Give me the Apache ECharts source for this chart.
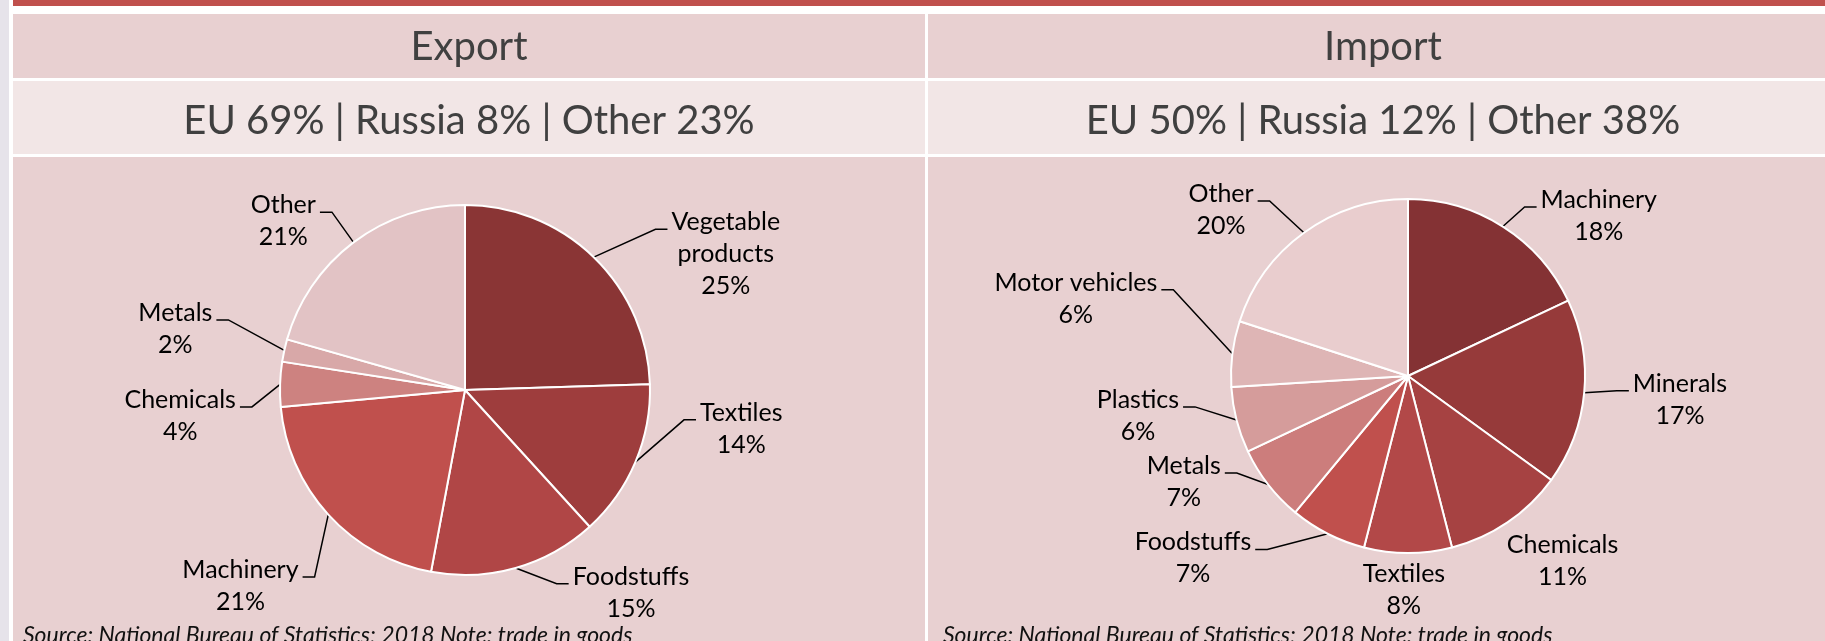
<!DOCTYPE html>
<html>
<head>
<meta charset="utf-8">
<script src="https://cdn.jsdelivr.net/npm/echarts@6/dist/echarts.min.js"></script>
<style>
  html, body { margin: 0; padding: 0; background: #ffffff; }
  #chart { width: 1825px; height: 641px; }
</style>
</head>
<body>
<div id="chart"></div>
<script>
// ---- data ----
const panelTitles = ['Export', 'Import'];

const partnerNames = ['EU', 'Russia', 'Other'];
const exportPartnerShares = [69, 8, 23];
const importPartnerShares = [50, 12, 38];

const exportCategories = ['Vegetable\nproducts', 'Textiles', 'Foodstuffs', 'Machinery', 'Chemicals', 'Metals', 'Other'];
const exportShares = [25, 14, 15, 21, 4, 2, 21];

const importCategories = ['Machinery', 'Minerals', 'Chemicals', 'Textiles', 'Foodstuffs', 'Metals', 'Plastics', 'Motor vehicles', 'Other'];
const importShares = [18, 17, 11, 8, 7, 7, 6, 6, 20];

const sourceNote = 'Source: National Bureau of Statistics; 2018 Note: trade in goods';

// ---- palette ----
const exportColors = ['#8a3535', '#9e3d3d', '#b04646', '#c0504d', '#cd8280', '#d8a8a8', '#e2c3c5'];
const importColors = ['#843234', '#963a3a', '#a64242', '#b24848', '#c0504d', '#cc7d7c', '#d59c9b', '#deb5b5', '#e9cdce'];

// ---- label placement around each pie: [angle clockwise from 12 o'clock (deg), distance from centre (px)] ----
const exportLabelSpots = [[62.5, 294], [98, 279], [140.7, 262], [228.9, 298], [264.8, 286], [281.9, 296], [312.9, 248]];
const importLabelSpots = [[50, 249], [95, 273], [140.1, 241], [181.1, 214], [229.7, 282], [244.7, 248], [261.6, 273], [283.1, 341], [311.6, 250]];

const PANEL_BG = '#e8d0d1';
const SUB_BG = '#f2e6e6';
const TEXT_DARK = '#404040';
const LABEL_FONT = 'Lato, "Open Sans", sans-serif';
const LABEL_LINE_H = 32;

const partnerLine = shares => partnerNames.map((n, i) => n + ' ' + shares[i] + '%').join(' | ');

// Places each label at its spot, centres its lines, and runs a leader line from
// the slice edge to the first text line (no leader when the label sits next to its slice).
function leaderLabel(center, spots) {
  return function (params) {
    const spot = spots[params.dataIndex];
    const a = spot[0] * Math.PI / 180;
    const bx = center[0] + spot[1] * Math.sin(a);
    const by = center[1] - spot[1] * Math.cos(a);
    const w = params.labelRect.width;
    const nLines = String(params.text).split('\n').length;
    const firstY = by - (nLines - 1) * LABEL_LINE_H / 2;
    const p0 = params.labelLinePoints ? params.labelLinePoints[0] : [bx, by];
    const toRight = bx >= p0[0];
    const gap = 4, tail = 12;
    const p2 = [toRight ? bx - w / 2 - gap : bx + w / 2 + gap, firstY + 7];
    const p1 = [toRight ? p2[0] - tail : p2[0] + tail, p2[1]];
    const reach = toRight ? p1[0] - p0[0] : p0[0] - p1[0];
    const pts = reach > 8 ? [p0, p1, p2] : [p0, p0, p0];
    return { x: bx, y: by, align: 'center', verticalAlign: 'middle', labelLinePoints: pts };
  };
}

function pieSeries(names, values, colors, center, radius, spots) {
  return {
    type: 'pie',
    center: center,
    radius: radius,
    startAngle: 90,
    clockwise: true,
    animation: false,
    silent: true,
    avoidLabelOverlap: false,
    data: names.map((n, i) => ({ name: n, value: values[i], itemStyle: { color: colors[i] } })),
    itemStyle: { borderColor: '#ffffff', borderWidth: 2 },
    label: {
      show: true,
      position: 'outside',
      formatter: '{b}\n{c}%',
      fontFamily: LABEL_FONT,
      fontSize: 25,
      lineHeight: LABEL_LINE_H,
      color: '#000000'
    },
    labelLine: {
      show: true,
      length: 20,
      length2: 10,
      lineStyle: { color: '#000000', width: 1.5 }
    },
    labelLayout: leaderLabel(center, spots)
  };
}

const chart = echarts.init(document.getElementById('chart'), null, { renderer: 'canvas' });

const leftX = 13, leftW = 912, rightX = 928, rightW = 897;
const headerText = (txt, cx, cy) => ({
  type: 'text', silent: true,
  style: { text: txt, x: cx, y: cy, align: 'center', verticalAlign: 'middle',
           font: '40px Lato, "Open Sans", sans-serif', fill: TEXT_DARK }
});
const noteText = x => ({
  type: 'text', silent: true,
  style: { text: sourceNote, x: x, y: 647, verticalAlign: 'bottom',
           font: 'italic 23px Lato, "Open Sans", sans-serif', fill: '#111111' }
});

chart.setOption({
  animation: false,
  graphic: [
    { type: 'rect', silent: true, shape: { x: 0, y: 0, width: 9, height: 641 }, style: { fill: '#e6e3ea' } },
    { type: 'rect', silent: true, shape: { x: leftX, y: 0, width: 1825 - leftX, height: 6 }, style: { fill: '#c0504d' } },
    { type: 'rect', silent: true, shape: { x: leftX, y: 14, width: leftW, height: 64 }, style: { fill: PANEL_BG } },
    { type: 'rect', silent: true, shape: { x: rightX, y: 14, width: rightW, height: 64 }, style: { fill: PANEL_BG } },
    { type: 'rect', silent: true, shape: { x: leftX, y: 81, width: leftW, height: 73 }, style: { fill: SUB_BG } },
    { type: 'rect', silent: true, shape: { x: rightX, y: 81, width: rightW, height: 73 }, style: { fill: SUB_BG } },
    { type: 'rect', silent: true, shape: { x: leftX, y: 157, width: leftW, height: 484 }, style: { fill: PANEL_BG } },
    { type: 'rect', silent: true, shape: { x: rightX, y: 157, width: rightW, height: 484 }, style: { fill: PANEL_BG } },
    headerText(panelTitles[0], 469, 47),
    headerText(panelTitles[1], 1383, 47),
    headerText(partnerLine(exportPartnerShares), 469, 121),
    headerText(partnerLine(importPartnerShares), 1383, 121),
    noteText(23),
    noteText(943)
  ],
  series: [
    pieSeries(exportCategories, exportShares, exportColors, [465, 390], 185, exportLabelSpots),
    pieSeries(importCategories, importShares, importColors, [1408, 376], 177, importLabelSpots)
  ]
});
</script>
</body>
</html>
